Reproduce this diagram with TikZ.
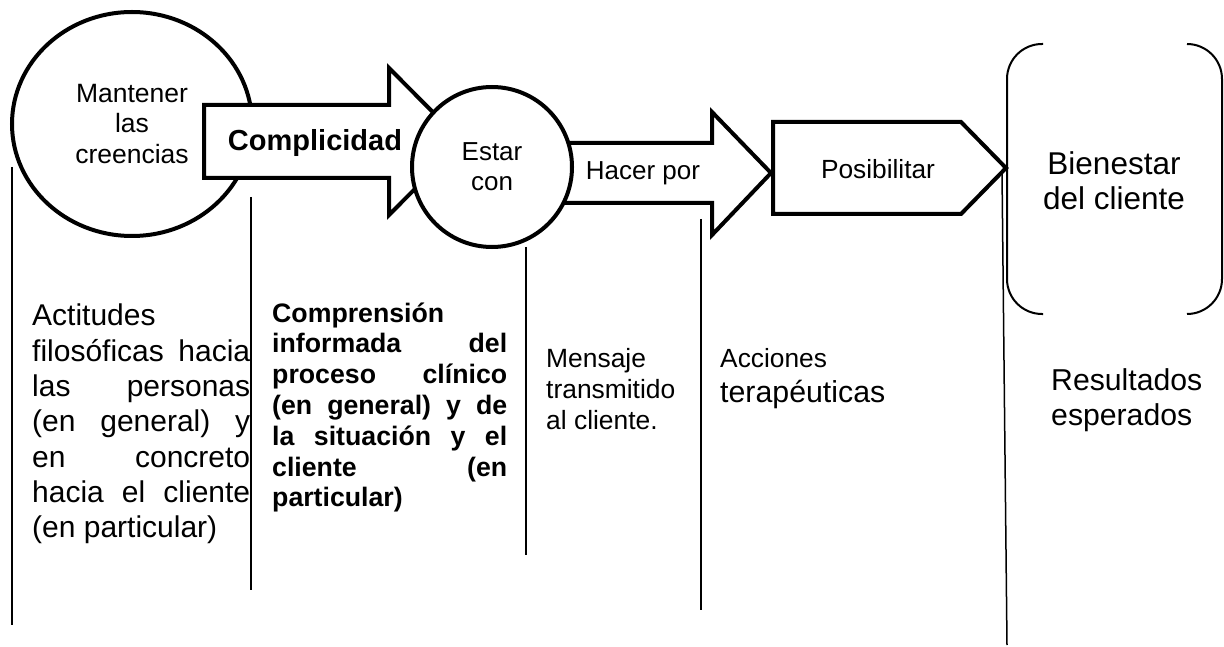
\documentclass[tikz,border=0pt]{standalone}
\usepackage{fontspec}
\setmainfont{Liberation Sans}
\usetikzlibrary{shapes.geometric}
\newcommand{\fsz}[2]{\fontsize{#1}{#2}\selectfont}

\begin{document}
\begin{tikzpicture}[x=1pt,y=-1pt,
        thick shape/.style={draw, line width=4pt, fill=white},
        sepline/.style={line width=1.5pt},
        bracket/.style={line width=2pt, rounded corners=35pt},
        column/.style={anchor=west, inner sep=0pt, align=justify,
            execute at begin node={\tolerance=10000\hyphenpenalty=10000}}]
            \useasboundingbox (0,0) rectangle (1224,647);
            % circles and block arrows
            \node [thick shape, ellipse, minimum width=240pt, minimum height=224pt, align=center, font=\fsz{26.5}{30.5}] (creencias) at (132,124) {Mantener\\las\\creencias};
            \draw [thick shape] (204,105) -- (389,105) -- (389,68) -- (462,141.5) -- (389,215) -- (389,178) -- (204,178) -- cycle;
            \draw [thick shape] (540,143) -- (712,143) -- (712,112) -- (771,173) -- (712,235) -- (712,203) -- (540,203) -- cycle;
            \node [thick shape, circle, minimum size=160pt, align=center, font=\fsz{26}{30}] (estar) at (492,167) {Estar\\con};
            \draw [thick shape] (773,122) -- (961,122) -- (1006,168) -- (961,214) -- (773,214) -- cycle;
            \draw [bracket] (1043,44) -- (1007,44) -- (1007,314) -- (1043,314);
            \draw [bracket] (1187,44) -- (1222,44) -- (1222,314) -- (1187,314);
            \node [font=\fsz{29}{34}\bfseries] (complicidad) at (315,143) {Complicidad};
            \node [font=\fsz{26}{30}] (hacer) at (643,173) {Hacer por};
            \node [font=\fsz{26.3}{30}] (posibilitar) at (878,169) {Posibilitar};
            \node [align=center, font=\fsz{31.5}{35}] (bienestar) at (1114,181) {Bienestar\\del cliente};
            % separators
            \draw [sepline] (12,167) -- (12,625);
            \draw [sepline] (251,197) -- (251,590);
            \draw [sepline] (526,247) -- (526,555);
            \draw [sepline] (701,219) -- (701,610);
            \draw [sepline] (1002,172) -- (1007,645);
            % column texts
            \node [column, text width=218pt, font=\fsz{30}{35.3}] (actitudes) at (32,424) {Actitudes\linebreak filosóficas hacia\linebreak las personas\linebreak (en general) y\linebreak en concreto\linebreak hacia el cliente\linebreak (en particular)};
            \node [column, text width=235pt, font=\fsz{26.7}{30.8}\bfseries] (comprension) at (272,407.5) {Comprensión\linebreak informada del\linebreak proceso clínico\linebreak (en general) y de\linebreak la situación y el\linebreak cliente (en\linebreak particular)};
            \node [anchor=west, inner sep=0pt, align=left, font=\fsz{26.4}{31}] (mensaje) at (546,389) {Mensaje\\transmitido\\al cliente.};
            \node [anchor=base west, inner sep=0pt, font=\fsz{26.3}{31}] (acciones) at (720,367) {Acciones};
            \node [anchor=base west, inner sep=0pt, font=\fsz{30.3}{35}] (terapeuticas) at (720,402) {terapéuticas};
            \node [anchor=west, inner sep=0pt, align=left, font=\fsz{30.2}{35}] (resultados) at (1051,400) {Resultados\\esperados};
        \end{tikzpicture}
\end{document}
